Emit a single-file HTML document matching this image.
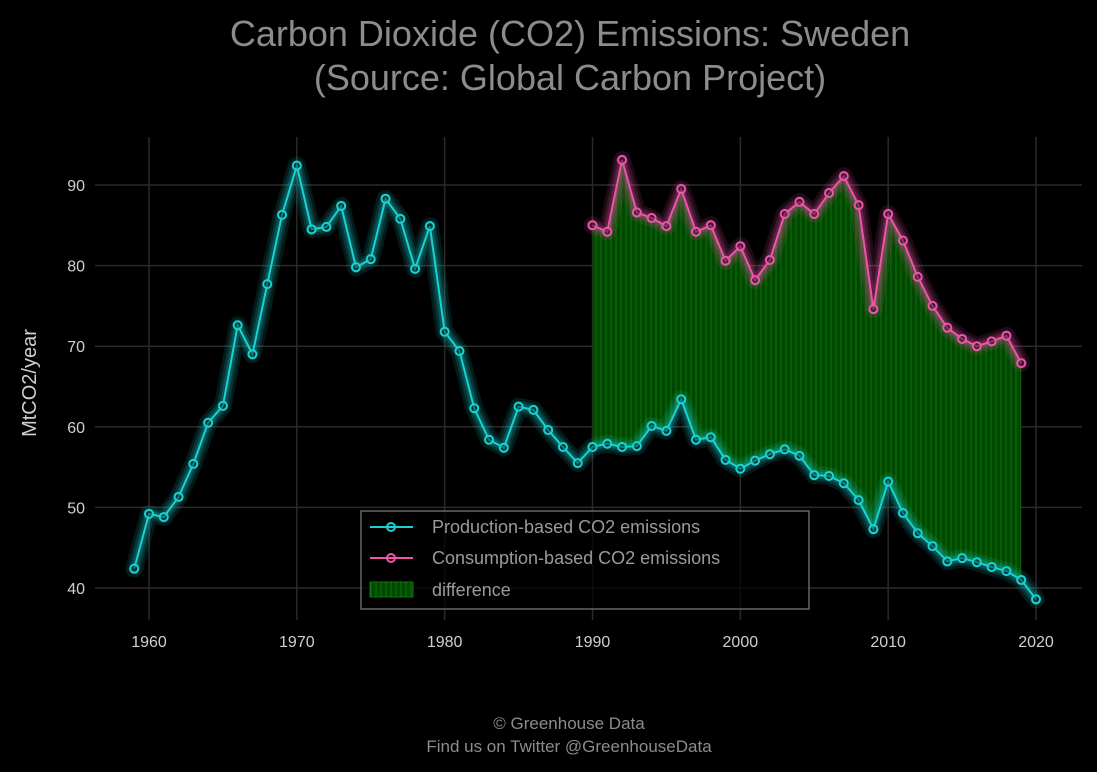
<!DOCTYPE html>
<html><head><meta charset="utf-8"><style>
html,body{margin:0;padding:0;background:#000;}
svg{display:block;font-family:"Liberation Sans",sans-serif;}
</style></head><body>
<svg id="chart" width="1097" height="772" viewBox="0 0 1097 772" xmlns="http://www.w3.org/2000/svg">
<defs>
<pattern id="hatch" patternUnits="userSpaceOnUse" width="5" height="10">
<rect width="5" height="10" fill="#004800"/>
<line x1="1" y1="0" x2="1" y2="10" stroke="#0b720b" stroke-width="1"/>
</pattern>
</defs>
<text x="570" y="46" text-anchor="middle" font-size="36" fill="#8c8c8c">Carbon Dioxide (CO2) Emissions: Sweden</text>
<text x="570" y="90" text-anchor="middle" font-size="36" fill="#8c8c8c">(Source: Global Carbon Project)</text>
<g id="grid"></g>
<g id="fill"></g>
<g id="series"></g>
<g id="axes"></g>
<text transform="translate(36,383) rotate(-90)" text-anchor="middle" font-size="20" fill="#d0d0d0">MtCO2/year</text>
<g>
<rect x="361" y="511" width="448" height="98" fill="#000" fill-opacity="0.7" stroke="#666" stroke-width="1.5"/>
<g>
<line x1="370" y1="527" x2="413" y2="527" stroke="#19d3d3" stroke-width="2"/>
<circle cx="391" cy="527" r="4" fill="none" stroke="#19d3d3" stroke-width="2"/>
<text x="432" y="533" font-size="18" fill="#9a9a9a">Production-based CO2 emissions</text></g>
<g>
<line x1="370" y1="558" x2="413" y2="558" stroke="#ee55aa" stroke-width="2"/>
<circle cx="391" cy="558" r="4" fill="none" stroke="#ee55aa" stroke-width="2"/>
<text x="432" y="564" font-size="18" fill="#9a9a9a">Consumption-based CO2 emissions</text></g>
<g>
<rect x="370" y="582" width="43" height="15" fill="url(#hatch)" stroke="#0a7a0a"/>
<text x="432" y="596" font-size="18" fill="#9a9a9a">difference</text></g>
</g>
<text x="569" y="729" text-anchor="middle" font-size="17" fill="#8c8c8c">© Greenhouse Data</text>
<text x="569" y="752" text-anchor="middle" font-size="17" fill="#8c8c8c">Find us on Twitter @GreenhouseData</text>
</svg>
<script>
const prodYears=[1959,1960,1961,1962,1963,1964,1965,1966,1967,1968,1969,1970,1971,1972,1973,1974,1975,1976,1977,1978,1979,1980,1981,1982,1983,1984,1985,1986,1987,1988,1989,1990,1991,1992,1993,1994,1995,1996,1997,1998,1999,2000,2001,2002,2003,2004,2005,2006,2007,2008,2009,2010,2011,2012,2013,2014,2015,2016,2017,2018,2019,2020];
const production=[42.4,49.2,48.8,51.3,55.4,60.5,62.6,72.6,69.0,77.7,86.3,92.4,84.5,84.8,87.4,79.8,80.8,88.3,85.8,79.6,84.9,71.8,69.4,62.3,58.4,57.4,62.5,62.1,59.6,57.5,55.5,57.5,57.9,57.5,57.6,60.1,59.5,63.4,58.4,58.7,55.9,54.8,55.8,56.6,57.2,56.4,54.0,53.9,53.0,50.9,47.3,53.2,49.3,46.8,45.2,43.3,43.7,43.2,42.6,42.1,41.0,38.6];
const consYears=[1990,1991,1992,1993,1994,1995,1996,1997,1998,1999,2000,2001,2002,2003,2004,2005,2006,2007,2008,2009,2010,2011,2012,2013,2014,2015,2016,2017,2018,2019];
const consumption=[85.0,84.2,93.1,86.6,85.9,84.9,89.5,84.2,85.0,80.6,82.4,78.2,80.7,86.4,87.9,86.4,89.0,91.1,87.5,74.6,86.4,83.1,78.6,75.0,72.3,70.9,70.0,70.6,71.3,67.9];
const xTicks=[1960,1970,1980,1990,2000,2010,2020];
const yTicks=[40,50,60,70,80,90];
const NS="http://www.w3.org/2000/svg";
const X=v=>149+(v-1960)*(1036-149)/60;
const Y=v=>588-(v-40)*(588-185)/50;
function mk(tag,attrs,parent){const e=document.createElementNS(NS,tag);for(const k in attrs)e.setAttribute(k,attrs[k]);parent.appendChild(e);return e;}
const gridG=document.getElementById('grid'),axesG=document.getElementById('axes'),fillG=document.getElementById('fill'),seriesG=document.getElementById('series');
xTicks.forEach(t=>{const l=mk('line',{x1:X(t),x2:X(t),y1:137,y2:620,stroke:'#2a2a2a','stroke-width':1.5},gridG);


const tx=mk('text',{x:X(t),y:647,'text-anchor':'middle','font-size':16,fill:'#d0d0d0'},axesG);tx.textContent=t;

});
yTicks.forEach(t=>{const l=mk('line',{x1:95,x2:1082,y1:Y(t),y2:Y(t),stroke:'#2a2a2a','stroke-width':1.5},gridG);


const tx=mk('text',{x:85,y:Y(t)+6,'text-anchor':'end','font-size':16,fill:'#d0d0d0'},axesG);tx.textContent=t;

});
const upperPts=consYears.map((y,i)=>X(y)+','+Y(consumption[i]));
const lowerPts=consYears.map(y=>{const j=prodYears.indexOf(y);return X(y)+','+Y(production[j]);}).reverse();
const poly=mk('polygon',{points:upperPts.concat(lowerPts).join(' '),fill:'url(#hatch)',stroke:'none'},fillG);


function drawSeries(xs,vs,col,name){
 const pts=xs.map((y,i)=>X(y)+','+Y(vs[i])).join(' ');
 [[18,0.12],[12,0.15],[7,0.2]].forEach(([w,o])=>{const g=mk('polyline',{points:pts,fill:'none',stroke:col,'stroke-width':w,'stroke-opacity':o,'stroke-linejoin':'round','stroke-linecap':'round'},seriesG);
 
 });
 const l=mk('polyline',{points:pts,fill:'none',stroke:col,'stroke-width':2},seriesG);
 
 
 xs.forEach((y,i)=>{const c=mk('circle',{cx:X(y),cy:Y(vs[i]),r:4,fill:'#000','fill-opacity':0.4,stroke:col,'stroke-width':2},seriesG);
 
 });
}
drawSeries(prodYears,production,'#19d3d3','production');
drawSeries(consYears,consumption,'#ee55aa','consumption');
</script>
</body></html>
